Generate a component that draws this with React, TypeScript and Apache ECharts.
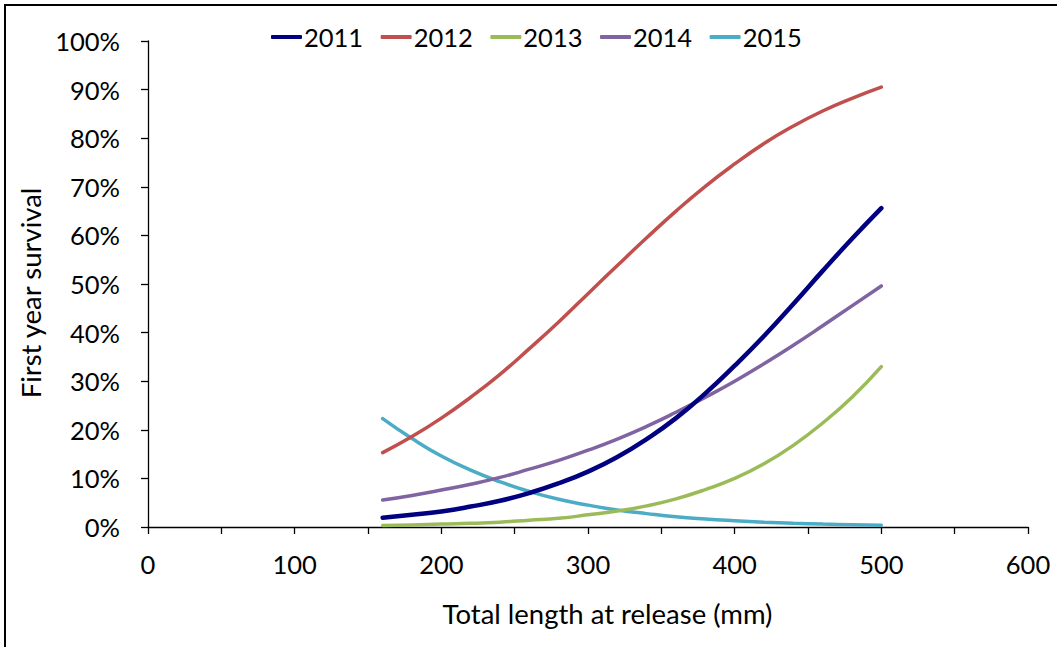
import React, { useEffect, useRef } from "react";
import * as echarts from "echarts";

const lengths = [160, 180, 200, 220, 240, 260, 280, 300, 320, 340, 360, 380, 400, 420, 440, 460, 480, 500];
const s2011 = [1.9, 2.5, 3.2, 4.2, 5.4, 7.0, 9.0, 11.4, 14.4, 18.1, 22.4, 27.5, 33.2, 39.3, 45.9, 52.7, 59.3, 65.6];
const s2012 = [15.3, 18.6, 22.4, 26.7, 31.4, 36.7, 42.2, 48.0, 53.8, 59.5, 65.0, 70.1, 74.7, 78.9, 82.5, 85.6, 88.2, 90.5];
const s2013 = [0.3, 0.4, 0.6, 0.75, 1.0, 1.4, 1.8, 2.5, 3.3, 4.35, 5.8, 7.7, 10.0, 13.0, 16.8, 21.4, 26.7, 33.0];
const s2014 = [5.55, 6.5, 7.6, 8.8, 10.2, 11.9, 13.7, 15.8, 18.1, 20.7, 23.6, 26.7, 30.0, 33.6, 37.4, 41.4, 45.5, 49.6];
const s2015 = [22.3, 18.2, 14.6, 11.7, 9.3, 7.3, 5.7, 4.5, 3.5, 2.75, 2.1, 1.65, 1.3, 1.0, 0.77, 0.6, 0.46, 0.35];

const seriesNames = ["2011", "2012", "2013", "2014", "2015"];
const seriesValues = [s2011, s2012, s2013, s2014, s2015];
const colors = ["#000080", "#C0504D", "#9BBB59", "#8064A2", "#4BACC6"];
const widths = [4.5, 3.5, 3.5, 3.5, 3.5];

const FONT = "Lato";
const FS = 25.5;
const FS_TITLE = 27.5;

export default function App() {
  const ref = useRef<HTMLDivElement>(null);
  useEffect(() => {
    if (!ref.current) return;
    const chart = echarts.init(ref.current, undefined, { renderer: "svg" });
    chart.setOption({
      animation: false,
      backgroundColor: "#fff",
      textStyle: { fontFamily: FONT },
      graphic: [
        {
          type: "rect",
          shape: { x: 5, y: 5, width: 1200, height: 1200 },
          style: { fill: "none", stroke: "#000", lineWidth: 2 },
          silent: true,
        },
      ],
      legend: {
        data: seriesNames,
        left: 271,
        top: 24,
        padding: 0,
        itemWidth: 31,
        itemHeight: 4,
        itemGap: 17.5,
        icon: "roundRect",
        textStyle: { fontFamily: FONT, fontSize: FS, color: "#000", padding: [0, 0, 0, -3] },
      },
      grid: { left: 148, top: 41, right: 29, bottom: 120, containLabel: false },
      xAxis: {
        type: "value",
        min: 0,
        max: 600,
        interval: 50,
        name: "Total length at release (mm)",
        nameLocation: "middle",
        nameGap: 72,
        nameTextStyle: { fontFamily: FONT, fontSize: FS_TITLE, color: "#000", padding: [0, 0, 0, 39] },
        axisLine: { show: true, lineStyle: { color: "#000", width: 1.3 } },
        axisTick: { show: true, length: 7, lineStyle: { color: "#000", width: 1.3 } },
        axisLabel: {
          fontFamily: FONT,
          fontSize: FS,
          color: "#000",
          margin: 24,
          formatter: (v: number) => (v % 100 === 0 ? String(v) : ""),
        },
        splitLine: { show: false },
      },
      yAxis: {
        type: "value",
        min: 0,
        max: 100,
        interval: 10,
        name: "First year survival",
        nameLocation: "middle",
        nameGap: 95,
        nameTextStyle: { fontFamily: FONT, fontSize: FS_TITLE, color: "#000", padding: [0, 18, 0, 0] },
        axisLine: { show: true, lineStyle: { color: "#000", width: 1.3 } },
        axisTick: { show: true, length: 7, lineStyle: { color: "#000", width: 1.3 } },
        axisLabel: {
          fontFamily: FONT,
          fontSize: FS,
          color: "#000",
          margin: 28,
          formatter: (v: number) => v + "%",
        },
        splitLine: { show: false },
      },
      series: seriesNames.map((name, i) => ({
        name,
        type: "line",
        smooth: true,
        showSymbol: false,
        symbol: "none",
        color: colors[i],
        lineStyle: { color: colors[i], width: widths[i], cap: "round" },
        data: lengths.map((x, j) => [x, seriesValues[i][j]]),
        z: 10 - i,
      })),
    });
    return () => chart.dispose();
  }, []);
  return (
    <div
      ref={ref}
      style={{ position: "fixed", left: 0, top: 0, width: 1057, height: 647 }}
    />
  );
}
